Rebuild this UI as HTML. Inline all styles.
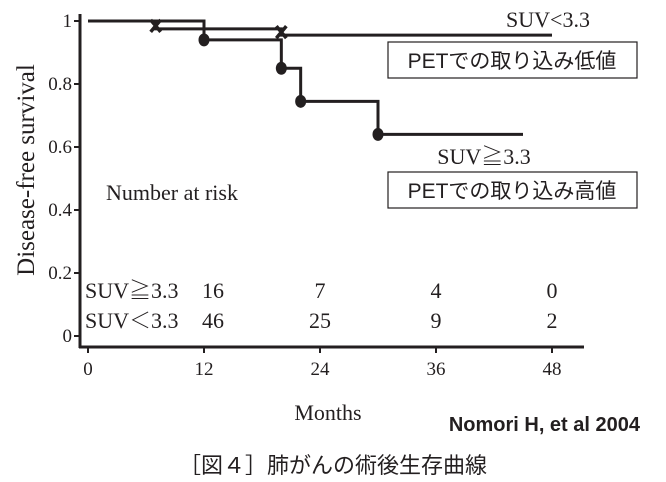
<!DOCTYPE html>
<html><head><meta charset="utf-8"><style>
body{margin:0;background:#fff;}
svg{display:block;}
.s{font-family:"Liberation Serif","Noto Serif CJK SC",serif;fill:#231f20;}
.j{font-family:"Liberation Sans","Noto Sans CJK JP",sans-serif;fill:#231f20;}
</style></head><body>
<svg width="666" height="482" xmlns="http://www.w3.org/2000/svg">
<g id="axes"></g><g id="curves"></g>
<text class="s" x="34" y="170" font-size="25" transform="rotate(-90 34 170)" text-anchor="middle">Disease-free survival</text>
<text class="s" x="328" y="420" font-size="22" text-anchor="middle">Months</text>
<text class="s" x="548" y="27" font-size="22" text-anchor="middle">SUV&lt;3.3</text>
<rect x="388" y="42" width="249" height="36" fill="none" stroke="#231f20" stroke-width="1.2"/>
<text class="j" x="512" y="68" font-size="21" text-anchor="middle">PETでの取り込み低値</text>
<text class="s" x="484" y="164" font-size="22" text-anchor="middle">SUV≧3.3</text>
<rect x="388" y="172" width="249" height="36" fill="none" stroke="#231f20" stroke-width="1.2"/>
<text class="j" x="512" y="198" font-size="21" text-anchor="middle">PETでの取り込み高値</text>
<text class="s" x="106" y="200" font-size="22">Number at risk</text>
<g id="risk"></g>
<text class="j" x="640" y="431" font-size="20" font-weight="bold" text-anchor="end">Nomori H, et al  2004</text>
<text class="j" x="333" y="473" font-size="22" text-anchor="middle">［図４］肺がんの術後生存曲線</text>
</svg>
<script>
const xTicks=[0,12,24,36,48];
const yTicks=[0,0.2,0.4,0.6,0.8,1];
const yTickLabels=["0","0.2","0.4","0.6","0.8","1"];
const lowTimes=[0,7,20,48];
const lowSurv=[1,0.975,0.955,0.955];
const highTimes=[0,12,20,22,30,45];
const highSurv=[1,0.94,0.85,0.745,0.64,0.64];
const lowCensor=[[7,0.975],[20,0.955]];
const riskGroups=["SUV≧3.3","SUV＜3.3"];
const riskHigh=[16,7,4,0];
const riskLow=[46,25,9,2];
const riskTimes=[12,24,36,48];
const NS="http://www.w3.org/2000/svg";
const X=m=>88+m*116/12, Y=v=>336-315*v;
function mk(t,a,p){const e=document.createElementNS(NS,t);for(const k in a)e.setAttribute(k,a[k]);(p||document.getElementById('axes')).appendChild(e);return e;}
let e=mk('line',{x1:80,y1:14,x2:80,y2:348,stroke:'#231f20','stroke-width':3});


e=mk('line',{x1:79,y1:347,x2:584,y2:347,stroke:'#231f20','stroke-width':3});


yTicks.forEach((v,i)=>{mk('line',{x1:74,y1:Y(v),x2:80,y2:Y(v),stroke:'#231f20','stroke-width':2});
 const t=mk('text',{x:72,y:Y(v)+6,'font-size':19,'text-anchor':'end',class:'s'});t.textContent=yTickLabels[i];
 
 });
xTicks.forEach(m=>{mk('line',{x1:X(m),y1:347,x2:X(m),y2:353,stroke:'#231f20','stroke-width':2});
 const t=mk('text',{x:X(m),y:375,'font-size':19,'text-anchor':'middle',class:'s'});t.textContent=m;
 
 });
const cv=document.getElementById('curves');
function step(ts,ss){let d=`M${X(ts[0])},${Y(ss[0])}`;for(let i=1;i<ts.length;i++){d+=`H${X(ts[i])}V${Y(ss[i])}`;}return d;}
e=mk('path',{d:step(lowTimes,lowSurv),fill:'none',stroke:'#231f20','stroke-width':3},cv);


e=mk('path',{d:step(highTimes,highSurv),fill:'none',stroke:'#231f20','stroke-width':3},cv);


for(let i=1;i<highTimes.length-1;i++){const c=mk('ellipse',{cx:X(highTimes[i]),cy:Y(highSurv[i]),rx:5.5,ry:6.5,fill:'#231f20'},cv);
 
 }
lowCensor.forEach(([m,v])=>{const x=X(m),y=Y(v)-3;const g=mk('path',{d:`M${x-5},${y-6}L${x+5},${y+6}M${x+5},${y-6}L${x-5},${y+6}`,stroke:'#231f20','stroke-width':3.5},cv);
 
 });
const rk=document.getElementById('risk');
[[riskHigh,298],[riskLow,328]].forEach(([arr,y],gi)=>{
 const l=mk('text',{x:85,y:y,'font-size':22,class:'s'},rk);l.textContent=riskGroups[gi];
 
 
 arr.forEach((n,i)=>{const t=mk('text',{x:i==0?X(riskTimes[i])+9:X(riskTimes[i]),y:y,'font-size':22,'text-anchor':'middle',class:'s'},rk);t.textContent=n;
 
 });});
</script>
</body></html>
